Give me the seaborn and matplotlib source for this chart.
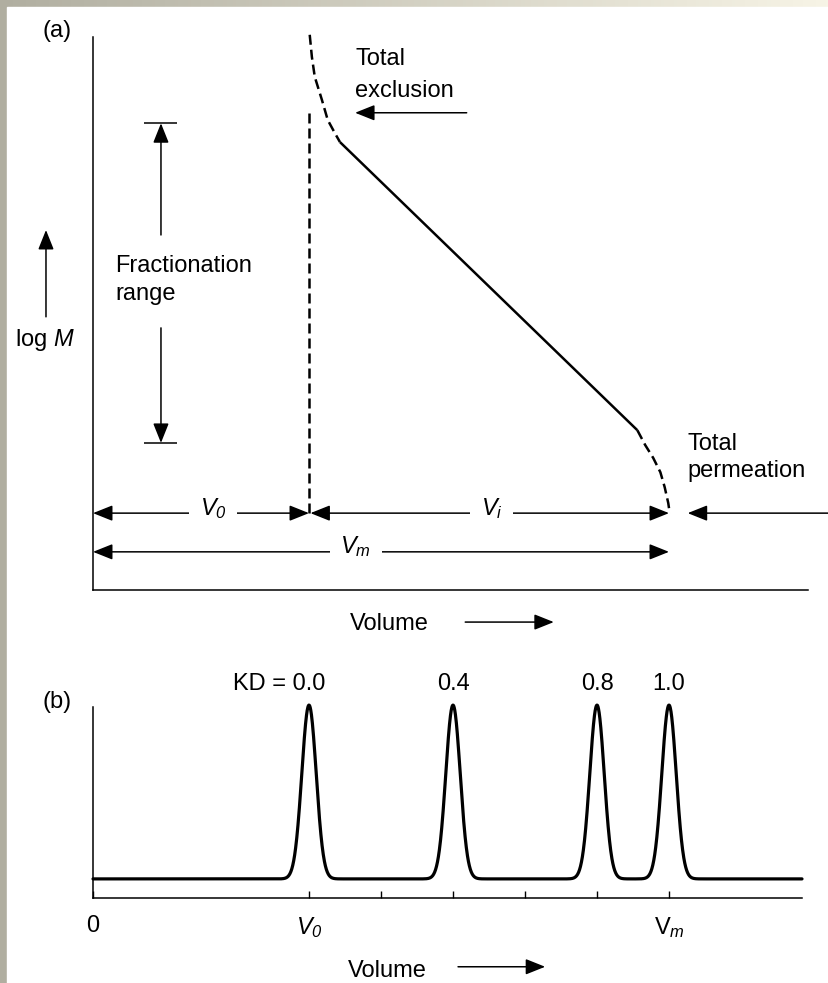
import numpy as np
import pandas as pd
import matplotlib
matplotlib.use("Agg")
import matplotlib.pyplot as plt
from matplotlib.patches import Rectangle
import seaborn as sns

# ---------------------------------------------------------------- data
# (a) calibration curve: elution volume vs. log M
excl_vol = [3.01, 3.04, 3.08, 3.18, 3.26, 3.36, 3.43]          # total-exclusion bend (dashed)
excl_logm = [10.04, 9.64, 9.28, 8.86, 8.50, 8.26, 8.10]
lin_vol = [3.43, 7.56]                                          # linear fractionation region
lin_logm = [8.10, 2.89]
perm_vol = [7.56, 7.67, 7.78, 7.88, 7.94, 7.99, 8.01]           # total-permeation bend (dashed)
perm_logm = [2.89, 2.62, 2.39, 2.13, 1.86, 1.57, 1.39]

V0 = 3.0            # void volume
VM = 8.0            # total mobile-phase volume
v0_line_top = 8.72  # top of the dashed V0 marker
frac_range = [2.66, 8.44]   # fractionation range limits (log M)
row_vi = 1.39       # level of the V0 / Vi dimension arrows
row_vm = 0.69       # level of the Vm dimension arrow

# (b) chromatogram: one peak per distribution coefficient
kd_values = [0.0, 0.4, 0.8, 1.0]
kd_labels = ["KD = 0.0", "0.4", "0.8", "1.0"]
peak_height = 0.91
peak_sigma = 0.10
baseline = 0.10
tick_vols = [0, 3, 4, 5, 6, 7, 8]
tick_labels = ["0", r"$V_{\mathsf{0}}$", "", "", "", "", r"$\mathrm{V}_{m}$"]

# ---------------------------------------------------------------- style
sns.set_theme(style="white")
plt.rcParams["font.family"] = ["Liberation Sans", "DejaVu Sans"]
plt.rcParams["mathtext.fontset"] = "custom"
plt.rcParams["mathtext.rm"] = "Liberation Sans"
plt.rcParams["mathtext.it"] = "Liberation Sans:italic"
# italic digits for subscripts (\mathit keeps digits upright)
plt.rcParams["mathtext.sf"] = "Liberation Sans:italic"
plt.rcParams["font.size"] = 17
plt.rcParams["text.color"] = "black"
plt.rcParams["xtick.color"] = "black"
plt.rcParams["axes.labelcolor"] = "black"
FS = 17
BLACK = "black"

W, H = 829, 983
fig = plt.figure(figsize=(W / 100, H / 100), dpi=100)

# frame: grey-beige strip on the left and top, white sheet inside
bg = fig.add_axes([0, 0, 1, 1], zorder=-10)
bg.axis("off")
c0 = np.array([176, 174, 160]) / 255
c1 = np.array([247, 244, 230]) / 255
t = np.linspace(0, 1, 256)
grad = c0[None, :] + (c1 - c0)[None, :] * t[:, None]
bg.imshow(grad[None, :, :], aspect="auto", extent=[0, 1, 0, 1])
bg.add_patch(Rectangle((7 / W, 0), 1, 1 - 7 / H, color="white"))
bg.set_xlim(0, 1)
bg.set_ylim(0, 1)


def px_axes(left, top, right, bottom):
    return fig.add_axes([left / W, 1 - bottom / H, (right - left) / W, (bottom - top) / H])


def arrow(ax, x0, y0, x1, y1, style="-|>", lw=1.1):
    ax.annotate("", xy=(x1, y1), xytext=(x0, y0), xycoords="data",
                annotation_clip=False,
                arrowprops=dict(arrowstyle=f"{style},head_length=0.6,head_width=0.24",
                                mutation_scale=20, color=BLACK, lw=lw,
                                shrinkA=0, shrinkB=0))


def dashed(line):
    line.set_dashes([4, 2])


# ================================================================ (a)
axA = px_axes(93, 37, 808, 590)
axA.set_xlim(0, 715 / 72)
axA.set_ylim(0, 10)
axA.set_facecolor("white")

LW_CURVE = 1.8
sns.lineplot(x=excl_vol, y=excl_logm, ax=axA, color=BLACK, lw=LW_CURVE,
             sort=False, estimator=None)
l_excl = axA.lines[-1]
sns.lineplot(x=lin_vol, y=lin_logm, ax=axA, color=BLACK, lw=LW_CURVE,
             sort=False, estimator=None)
sns.lineplot(x=perm_vol, y=perm_logm, ax=axA, color=BLACK, lw=LW_CURVE,
             sort=False, estimator=None)
l_perm = axA.lines[-1]
sns.lineplot(x=[V0, V0], y=[row_vi, v0_line_top], ax=axA, color=BLACK, lw=LW_CURVE,
             sort=False, estimator=None)
l_v0 = axA.lines[-1]
for ln in (l_excl, l_perm, l_v0):
    dashed(ln)
for ln in axA.lines:
    ln.set_clip_on(False)
    ln.set_solid_capstyle("butt")

# fractionation range bars and arrows
frac_x = 0.944
axA.hlines(frac_range, 0.71, 1.17, color=BLACK, lw=1.1)
arrow(axA, frac_x, 6.42, frac_x, frac_range[1])
arrow(axA, frac_x, 4.74, frac_x, frac_range[0])
axA.text(0.306, 5.75, "Fractionation", ha="left", va="baseline", fontsize=FS)
axA.text(0.306, 5.24, "range", ha="left", va="baseline", fontsize=FS)

# log M axis marker
arrow(axA, -0.653, 4.94, -0.653, 6.51)
axA.text(-1.08, 4.41, r"log $M$", ha="left", va="baseline", fontsize=FS, clip_on=False)

# total exclusion
axA.text(3.64, 9.49, "Total", ha="left", va="baseline", fontsize=FS)
axA.text(3.64, 8.92, "exclusion", ha="left", va="baseline", fontsize=FS)
arrow(axA, 5.19, 8.63, 3.64, 8.63)

# total permeation
axA.text(8.26, 2.53, "Total", ha="left", va="baseline", fontsize=FS)
axA.text(8.26, 2.04, "permeation", ha="left", va="baseline", fontsize=FS)
arrow(axA, 10.25, row_vi, 8.26, row_vi)

# volume dimension arrows
arrow(axA, 0, row_vi, V0, row_vi, style="<|-|>")
arrow(axA, V0 + 0.02, row_vi, VM, row_vi, style="<|-|>")
arrow(axA, 0, row_vm, VM, row_vm, style="<|-|>")
lab_box = dict(boxstyle="square,pad=0.45", fc="white", ec="none")
axA.text(1.67, row_vi - 0.03, r"$V_{\mathsf{0}}$", ha="center", va="baseline",
         fontsize=FS, bbox=lab_box, zorder=6)
axA.text(5.54, row_vi - 0.03, r"$V_{i}$", ha="center", va="baseline",
         fontsize=FS, bbox=lab_box, zorder=6)
axA.text(3.65, row_vm - 0.03, r"$V_{m}$", ha="center", va="baseline",
         fontsize=FS, bbox=lab_box, zorder=6)

# x-axis caption
axA.text(3.57, -0.72, "Volume", ha="left", va="baseline", fontsize=FS, clip_on=False)
arrow(axA, 5.17, -0.58, 6.40, -0.58)

sns.despine(ax=axA)
for side in ("left", "bottom"):
    axA.spines[side].set_color(BLACK)
    axA.spines[side].set_linewidth(1.1)
axA.set_xticks([])
axA.set_yticks([])
axA.set_xlabel("")
axA.set_ylabel("")

# ================================================================ (b)
axB = px_axes(93, 707, 802, 898)
xmax_b = 709 / 72
axB.set_xlim(0, xmax_b)
axB.set_ylim(0, 1)

vol = np.linspace(0, xmax_b, 3000)
signal = np.full_like(vol, baseline)
peak_pos = [V0 + kd * (VM - V0) for kd in kd_values]
for p in peak_pos:
    signal += peak_height * np.exp(-0.5 * ((vol - p) / peak_sigma) ** 2)
chrom = pd.DataFrame({"Volume": vol, "Signal": signal})
sns.lineplot(data=chrom, x="Volume", y="Signal", ax=axB, color=BLACK, lw=2.3)
axB.lines[-1].set_clip_on(False)

for p, lab in zip(peak_pos, kd_labels):
    if lab.startswith("KD"):
        axB.annotate(lab, xy=(p, 1.089), xytext=(12, 0), textcoords="offset points",
                     ha="right", va="baseline", fontsize=FS, annotation_clip=False)
    else:
        axB.text(p, 1.089, lab, ha="center", va="baseline", fontsize=FS)

axB.set_xticks(tick_vols, tick_labels)
axB.set_yticks([])
axB.tick_params(axis="x", direction="in", length=5, width=1, pad=12,
                labelsize=FS, bottom=True, color=BLACK, labelcolor=BLACK)
axB.set_xlabel("")
axB.set_ylabel("")
sns.despine(ax=axB)
for side in ("left", "bottom"):
    axB.spines[side].set_color(BLACK)
    axB.spines[side].set_linewidth(1.1)

axB.text(3.54, -0.414, "Volume", ha="left", va="baseline", fontsize=FS, clip_on=False)
arrow(axB, 5.07, -0.36, 6.28, -0.36)

# panel tags
fig.text(43 / W, 1 - 31 / H, "(a)", ha="left", va="center", fontsize=FS)
fig.text(43 / W, 1 - 702 / H, "(b)", ha="left", va="center", fontsize=FS)

fig.savefig("out.png", dpi=100)
